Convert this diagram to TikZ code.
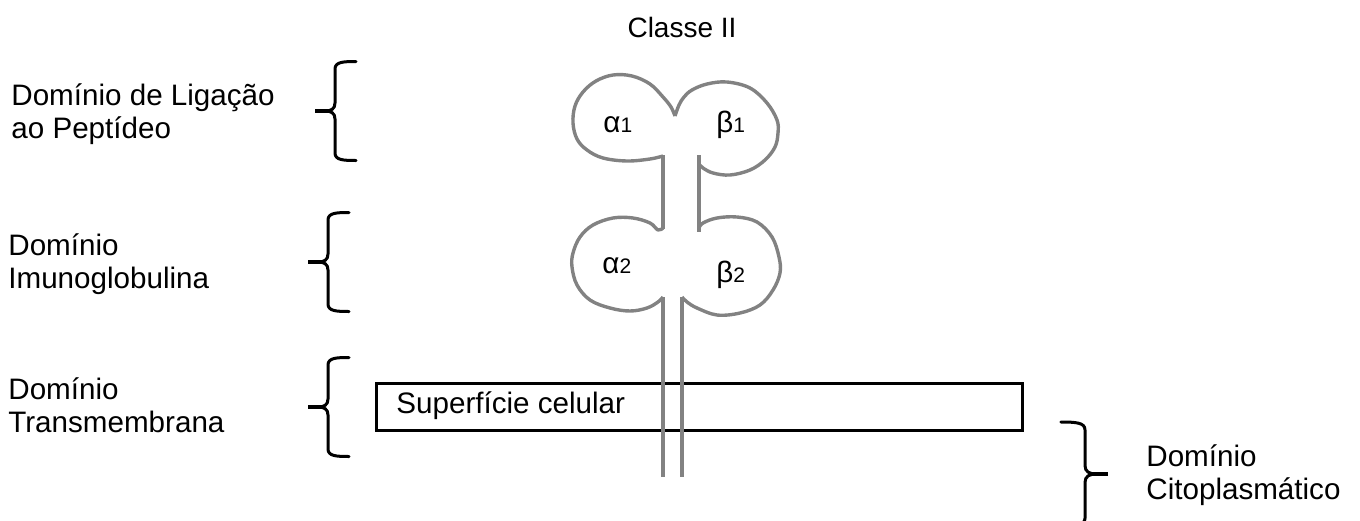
\documentclass[tikz,border=0pt]{standalone}
\usepackage{fontspec}
\setmainfont{Liberation Sans}
\definecolor{molgray}{RGB}{130,130,130}
\tikzset{
  lbl/.style={font=\fontsize{14.8}{16.5}\selectfont, inner sep=0pt, align=left, anchor=base west},
  greek/.style={font=\fontsize{14.8}{16.5}\selectfont, inner sep=0pt, anchor=base west},
  bracestyle/.style={draw=black, line width=1.5pt, line cap=round, line join=round},
  lobe/.style={draw=molgray, line width=1.7pt, line join=round},
  stem/.style={draw=molgray, line width=2pt},
  curlybrace/.pic={
    \draw[bracestyle] (41,-49.5) .. controls (28,-49.5) and (20,-49) .. (20,-42)
      -- (20,-8) .. controls (20,-2) and (16,0) .. (10,0)
      .. controls (16,0) and (20,2) .. (20,8)
      -- (20,42) .. controls (20,49) and (28,49.5) .. (41,49.5);
    \draw[bracestyle, line width=2pt, line cap=butt] (0,0) -- (13,0);
  }
}
\begin{document}
\begin{tikzpicture}[x=0.5pt,y=-0.5pt]
\useasboundingbox (0,0) rectangle (1360,520);

% title
\node[font=\fontsize{14}{16}\selectfont, inner sep=0pt, anchor=base] (title) at (682,37) {Classe II};

% labels (base anchor = baseline of last line)
\node[lbl] (lig) at (11,138) {Domínio de Ligação\\ao Peptídeo};
\node[lbl] (imu) at (8,288) {Domínio\\Imunoglobulina};
\node[lbl] (trans) at (8,432) {Domínio\\Transmembrana};
\node[lbl] (cito) at (1146,499) {Domínio\\Citoplasmático};

% braces
\pic at (315,111) {curlybrace};
\pic at (308,262) {curlybrace};
\pic at (308,407) {curlybrace};
\pic[xscale=-1.15, yscale=1.05] at (1108,474) {curlybrace};

% membrane
\draw[draw=black, line width=1.5pt] (376,383) rectangle (1022,430);
\node[lbl] (surf) at (396,413) {Superfície celular};

% lobes
\draw[lobe] plot[smooth, tension=0.6] coordinates {
  (663,156) (650,159) (627,161) (603,158) (587,150) (577,139) (573,123)
  (575,106) (583,92) (596,81) (613,75) (632,76) (650,84) (663,97) (671,107) (675,116)};
\draw[lobe] plot[smooth, tension=0.6] coordinates {
  (675,116) (679,105) (684,97) (692,90) (707,84) (727,82) (750,88) (767,103)
  (777,120) (778,133) (775,147) (765,160) (750,170) (730,175) (713,173) (703,168) (699,164)};
\draw[lobe] plot[smooth, tension=0.6] coordinates {
  (663,228) (658,230) (650,223) (633,218) (613,218) (593,225) (580,237) (573,253)
  (572,267) (577,285) (590,300) (610,308) (630,311) (647,308) (658,302) (663,297)};
\draw[lobe] plot[smooth, tension=0.6] coordinates {
  (699,228) (703,223) (717,218) (737,217) (757,222) (772,237) (779,257) (780,273)
  (773,290) (760,305) (740,313) (717,315) (697,308) (687,302) (682,297)};

% stems
\draw[stem] (663,155) -- (663,229);
\draw[stem] (699,155) -- (699,232);
\draw[stem] (663,297) -- (663,477);
\draw[stem] (682,297) -- (682,477);

% greek labels
\node[greek] (a1) at (603,132) {α{\fontsize{10.5}{12}\selectfont 1}};
\node[greek] (b1) at (716,132) {β{\fontsize{10.5}{12}\selectfont 1}};
\node[greek] (a2) at (602,273) {α{\fontsize{10.5}{12}\selectfont 2}};
\node[greek] (b2) at (716,282) {β{\fontsize{10.5}{12}\selectfont 2}};
\end{tikzpicture}
\end{document}
